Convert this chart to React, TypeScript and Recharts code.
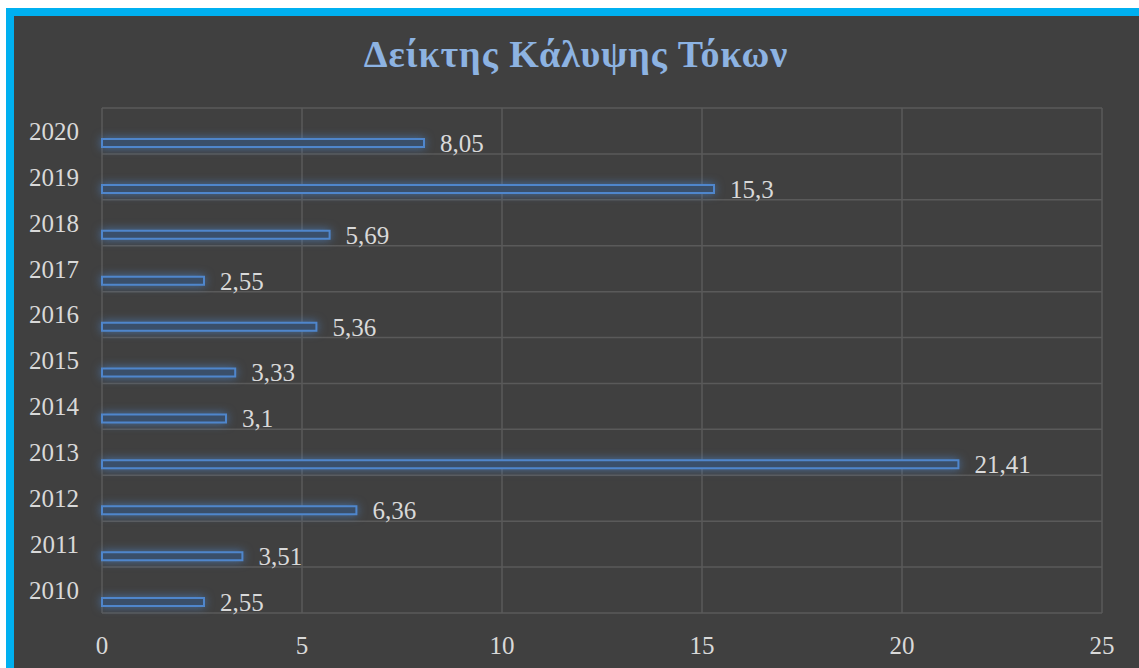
import React from "react";
import { BarChart, Bar, XAxis, YAxis, CartesianGrid, LabelList } from "recharts";

const years = ["2020", "2019", "2018", "2017", "2016", "2015", "2014", "2013", "2012", "2011", "2010"];
const coverage = [8.05, 15.3, 5.69, 2.55, 5.36, 3.33, 3.1, 21.41, 6.36, 3.51, 2.55];
const xTicks = [0, 5, 10, 15, 20, 25];
const title = "Δείκτης Κάλυψης Τόκων";

const data = years.map((y, i) => ({ year: y, spacer: null as number | null, value: coverage[i] }));

const FONT = "'Liberation Serif', 'DejaVu Serif', serif";
const TICK = "#D9D9D9";
const GRID = "#5A5A5A";

const fmt = (v: any) => String(v).replace(".", ",");

export default function App() {
  const W = 1139;
  const H = 668;
  return (
    <div style={{ position: "fixed", left: 0, top: 0, width: W, height: H, overflow: "hidden", background: "#ffffff" }}>
      <div
        style={{
          position: "absolute",
          left: 6,
          top: 8,
          width: 1160,
          height: 700,
          boxSizing: "border-box",
          border: "8px solid #00B0F0",
          background: "#404040",
        }}
      />
      <div
        style={{
          position: "absolute",
          left: 0,
          top: 32,
          width: 1152,
          textAlign: "center",
          fontFamily: FONT,
          fontWeight: "bold",
          fontSize: 38,
          letterSpacing: 1,
          lineHeight: "44px",
          color: "#8DB3E2",
        }}
      >
        {title}
      </div>
      <div style={{ position: "absolute", left: 0, top: 0 }}>
        <BarChart
          width={W}
          height={H}
          data={data}
          layout="vertical"
          margin={{ top: 108, right: 37, bottom: 15, left: 22 }}
          barGap={17}
          barSize={8}
        >
          <CartesianGrid
            stroke={GRID}
            strokeWidth={1.5}
            horizontalCoordinatesGenerator={({ offset }: any) =>
              years.map((_, i) => offset.top + (i * offset.height) / years.length).concat([offset.top + offset.height])
            }
          />
          <XAxis
            type="number"
            domain={[0, 25]}
            ticks={xTicks}
            axisLine={false}
            tickLine={false}
            tickSize={0}
            tickMargin={23}
            height={40}
            tick={{ fill: TICK, fontFamily: FONT, fontSize: 25 }}
          />
          <YAxis
            type="category"
            dataKey="year"
            width={80}
            axisLine={false}
            tickLine={false}
            tickSize={0}
            tickMargin={23}
            tick={{ fill: TICK, fontFamily: FONT, fontSize: 25 }}
          />
          <Bar dataKey="spacer" isAnimationActive={false} fill="none" />
          <Bar
            dataKey="value"
            isAnimationActive={false}
            fill="#3A4F6A"
            stroke="#4F86CC"
            strokeWidth={2}
            style={{ filter: "drop-shadow(0 0 5px rgba(79,134,204,0.7))" }}
          >
            <LabelList
              dataKey="value"
              position="right"
              offset={16}
              formatter={fmt}
              style={{ fill: TICK, fontFamily: FONT, fontSize: 25 }}
            />
          </Bar>
        </BarChart>
      </div>
    </div>
  );
}
